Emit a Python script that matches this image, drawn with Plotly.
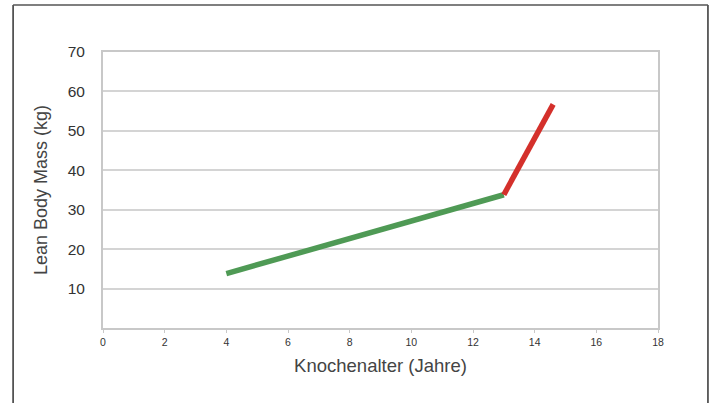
import plotly.graph_objects as go

green_x = [4, 13]
green_y = [13.8, 33.8]
red_x = [13, 14.6]
red_y = [33.8, 56.7]

x_ticks = [0, 2, 4, 6, 8, 10, 12, 14, 16, 18]
y_ticks = [10, 20, 30, 40, 50, 60, 70]

fig = go.Figure()
fig.add_trace(go.Scatter(x=green_x, y=green_y, mode="lines",
                         line=dict(color="#4f9a55", width=5.5), showlegend=False))
fig.add_trace(go.Scatter(x=red_x, y=red_y, mode="lines",
                         line=dict(color="#d4302b", width=5.5), showlegend=False))

fig.update_layout(
    width=713, height=403,
    margin=dict(l=103, r=55, t=52, b=75),
    paper_bgcolor="white", plot_bgcolor="white",
    font=dict(family="Liberation Sans, Arial, sans-serif", color="#333333"),
    xaxis=dict(range=[0, 18], tickvals=x_ticks, ticktext=[str(v) for v in x_ticks],
               showgrid=False, zeroline=False, showline=True, linecolor="#c8c8c8",
               linewidth=2, mirror=True, ticks="outside", ticklen=3, tickcolor="#c8c8c8",
               tickfont=dict(size=10.5, color="#333333"),
               title=dict(text="Knochenalter (Jahre)", font=dict(size=18.5, color="#444444"), standoff=12)),
    yaxis=dict(range=[0, 70], tickvals=y_ticks, showgrid=True, gridcolor="#d4d4d4", gridwidth=1.5,
               zeroline=False, showline=True, linecolor="#c8c8c8", linewidth=2, mirror=True,
               ticks="outside", ticklen=13, tickcolor="rgba(0,0,0,0)",
               tickfont=dict(size=15.5, color="#333333"),
               title=dict(text="Lean Body Mass (kg)", font=dict(size=18, color="#444444"), standoff=15)),
    shapes=[
        dict(type="line", xref="paper", yref="paper", x0=-0.162, x1=-0.162, y0=1.17, y1=-0.3,
             line=dict(color="#333333", width=1.5)),
        dict(type="line", xref="paper", yref="paper", x0=1.090, x1=1.090, y0=1.17, y1=-0.3,
             line=dict(color="#333333", width=1.5)),
        dict(type="line", xref="paper", yref="paper", x0=-0.162, x1=1.090, y0=1.17, y1=1.17,
             line=dict(color="#555555", width=1.5)),
    ],
)

# remove the page's default body margin so the figure sits at the window corner
fig.write_html(
    "out.html",
    config={"displayModeBar": False},
    post_script="document.body.style.margin='0';document.documentElement.style.overflow='hidden';",
)
